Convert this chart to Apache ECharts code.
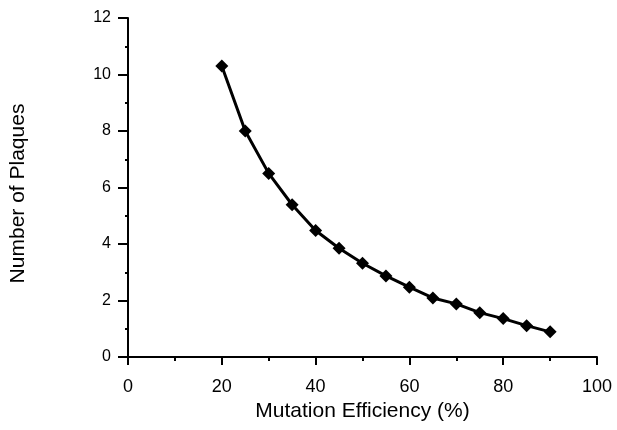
<!DOCTYPE html>
<html>
<head>
<meta charset="utf-8">
<script src="https://cdn.jsdelivr.net/npm/echarts@6/dist/echarts.min.js"></script>
<style>html,body{margin:0;padding:0;background:#fff}#c{width:617px;height:430px}</style>
</head>
<body>
<div id="c"></div>
<script>
const efficiency = [20, 25, 30, 35, 40, 45, 50, 55, 60, 65, 70, 75, 80, 85, 90];
const plaques = [10.3, 8.0, 6.5, 5.39, 4.48, 3.85, 3.32, 2.87, 2.47, 2.09, 1.88, 1.57, 1.36, 1.11, 0.89];
const xTicks = [0, 20, 40, 60, 80, 100];
const yTicks = [0, 2, 4, 6, 8, 10, 12];

const chart = echarts.init(document.getElementById('c'), null, {renderer: 'canvas'});
const font = '"Liberation Sans", Arial, sans-serif';
chart.setOption({
  animation: false,
  backgroundColor: '#fff',
  grid: {left: 127, right: 20, top: 18, bottom: 73, containLabel: false},
  xAxis: {
    type: 'value', min: 0, max: 100, interval: 20,
    name: 'Mutation Efficiency (%)', nameLocation: 'middle', nameGap: 40,
    nameTextStyle: {fontFamily: font, fontSize: 21, color: '#000'},
    axisLine: {show: true, lineStyle: {color: '#000', width: 2}},
    axisTick: {show: true, inside: false, length: 8, lineStyle: {color: '#000', width: 2}},
    minorTick: {show: true, splitNumber: 2, length: 4, lineStyle: {color: '#000', width: 2}},
    splitLine: {show: false},
    axisLabel: {fontFamily: font, fontSize: 18, color: '#000', margin: 21,
      formatter: v => xTicks.includes(v) ? String(v) : ''}
  },
  yAxis: {
    type: 'value', min: 0, max: 12, interval: 2,
    name: 'Number of Plaques', nameLocation: 'middle', nameGap: 99, nameRotate: 90,
    nameTextStyle: {fontFamily: font, fontSize: 21, color: '#000', padding: [0, 12, 0, 0]},
    axisLine: {show: true, lineStyle: {color: '#000', width: 2}},
    axisTick: {show: true, inside: false, length: 10, lineStyle: {color: '#000', width: 2}},
    minorTick: {show: true, splitNumber: 2, length: 3, lineStyle: {color: '#000', width: 2}},
    splitLine: {show: false},
    axisLabel: {fontFamily: font, fontSize: 16, color: '#000', margin: 17,
      formatter: v => yTicks.includes(v) ? String(v) : ''}
  },
  series: [{
    type: 'line',
    data: efficiency.map((x, i) => [x, plaques[i]]),
    symbol: 'diamond', symbolSize: 13,
    lineStyle: {color: '#000', width: 3},
    itemStyle: {color: '#000'},
    smooth: false
  }]
});
</script>
</body>
</html>
